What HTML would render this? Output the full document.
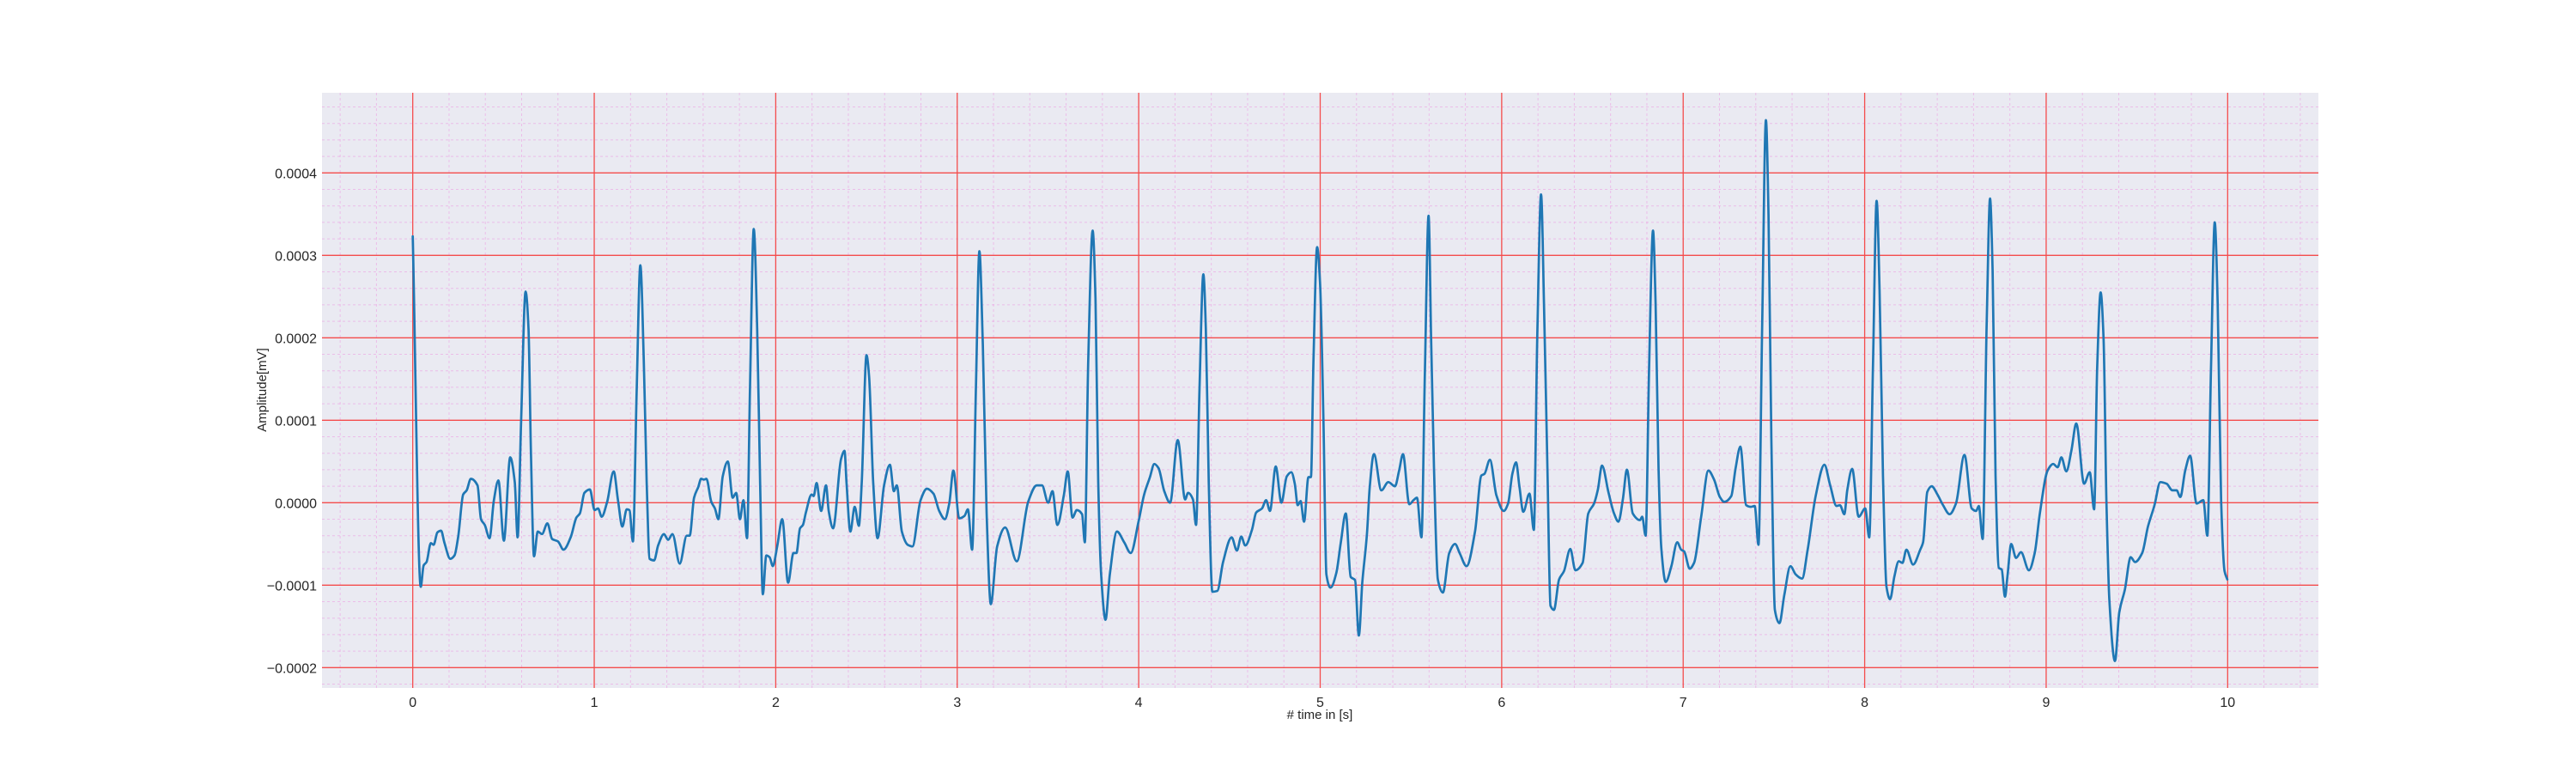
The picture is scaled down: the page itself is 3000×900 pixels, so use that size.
<!DOCTYPE html>
<html><head><meta charset="utf-8"><style>
html,body{margin:0;padding:0;background:#fff;}
svg{display:block;font-family:"Liberation Sans",sans-serif;}
</style></head><body>
<svg id="chart" width="3000" height="900" xmlns="http://www.w3.org/2000/svg">
<rect x="375" y="108" width="2325" height="693" fill="#eaeaf2"/>
<g id="grid"></g>
<g id="series"></g>
<g id="axes"></g>
<text x="1537" y="837" font-size="15" fill="#262626" text-anchor="middle"># time in [s]</text>
<text transform="translate(310,454) rotate(-90)" font-size="15" fill="#262626" text-anchor="middle">Amplitude[mV]</text>
</svg>
<script>
// time (s)
const times = [0,0.044,0.06,0.076,0.1,0.115,0.136,0.156,0.175,0.207,0.23,0.25,0.278,0.297,0.32,0.357,0.376,0.397,0.423,0.447,0.472,0.502,0.537,0.562,0.578,0.597,0.622,0.638,0.651,0.668,0.689,0.712,0.742,0.768,0.8,0.831,0.87,0.902,0.921,0.946,0.976,1.002,1.021,1.041,1.071,1.107,1.131,1.155,1.179,1.194,1.213,1.234,1.254,1.273,1.289,1.305,1.33,1.352,1.384,1.407,1.431,1.471,1.51,1.526,1.55,1.573,1.589,1.605,1.618,1.645,1.665,1.684,1.708,1.736,
1.763,1.782,1.803,1.822,1.842,1.858,1.879,1.898,1.914,1.929,1.948,1.966,1.984,2.008,2.036,2.068,2.098,2.114,2.134,2.15,2.166,2.198,2.209,2.225,2.25,2.277,2.292,2.316,2.36,2.379,2.39,2.411,2.435,2.458,2.474,2.5,2.514,2.537,2.561,2.597,2.629,2.651,2.667,2.695,2.727,2.753,2.798,2.833,2.869,2.901,2.932,2.956,2.979,3.011,3.04,3.059,3.082,3.103,3.122,3.141,3.162,3.185,3.22,3.264,3.328,3.391,3.438,3.467,3.501,
3.525,3.552,3.588,3.609,3.635,3.659,3.688,3.703,3.722,3.746,3.762,3.777,3.793,3.817,3.841,3.88,3.92,3.956,3.999,4.03,4.062,4.086,4.109,4.141,4.173,4.215,4.256,4.272,4.299,4.316,4.335,4.356,4.37,4.386,4.406,4.433,4.465,4.512,4.541,4.565,4.587,4.624,4.647,4.679,4.702,4.723,4.755,4.786,4.816,4.841,4.86,4.876,4.892,4.911,4.935,4.949,4.963,4.983,4.999,5.018,5.034,5.057,5.089,5.113,5.141,5.168,5.192,
5.213,5.232,5.258,5.273,5.296,5.337,5.375,5.412,5.435,5.456,5.491,5.514,5.533,5.558,5.577,5.597,5.611,5.627,5.648,5.676,5.711,5.743,5.77,5.806,5.853,5.888,5.905,5.935,5.971,6.011,6.035,6.059,6.079,6.098,6.119,6.153,6.177,6.196,6.217,6.233,6.252,6.269,6.288,6.316,6.343,6.378,6.406,6.446,6.477,6.509,6.53,6.553,6.588,6.619,6.643,6.667,6.69,6.722,6.762,6.774,6.793,6.812,6.834,6.848,6.864,6.88,6.904,6.935,6.967,
6.989,7.005,7.036,7.06,7.099,7.139,7.17,7.202,7.226,7.265,7.289,7.315,7.347,7.372,7.394,7.415,7.435,7.456,7.47,7.486,7.505,7.53,7.557,7.591,7.62,7.655,7.686,7.73,7.778,7.809,7.845,7.864,7.888,7.904,7.931,7.967,8.003,8.025,8.046,8.066,8.082,8.101,8.12,8.14,8.164,8.188,8.208,8.23,8.267,8.306,8.322,8.345,8.369,8.401,8.432,8.468,8.503,8.55,8.59,8.614,8.629,8.65,8.672,8.691,8.705,8.721,
8.739,8.755,8.773,8.787,8.807,8.834,8.861,8.905,8.937,8.965,9.008,9.039,9.063,9.084,9.111,9.139,9.166,9.209,9.24,9.264,9.281,9.3,9.316,9.332,9.348,9.379,9.403,9.434,9.466,9.49,9.529,9.561,9.597,9.629,9.664,9.695,9.719,9.739,9.766,9.793,9.829,9.866,9.888,9.908,9.929,9.945,9.964,9.983,9.998];
// amplitude in units of 1e-5 mV
const amplitude = [32.3,-10.2,-7.6,-7.2,-4.9,-5.1,-3.6,-3.4,-4.9,-6.8,-6.4,-4.2,1.0,1.5,2.9,2.1,-2.0,-2.7,-4.3,0.3,2.7,-4.6,5.5,2.5,-4.2,9.9,25.6,21.1,6.2,-6.5,-3.5,-3.8,-2.5,-4.4,-4.7,-5.7,-4.2,-1.8,-1.3,1.2,1.6,-0.9,-0.7,-1.7,0.1,3.8,0.3,-2.9,-0.8,-0.9,-4.7,13.7,28.8,17.4,2.5,-6.8,-7.0,-5.2,-3.8,-4.5,-3.8,-7.4,-4.0,-4.0,0.6,1.9,2.9,2.8,2.9,0.1,-0.7,-2.0,3.2,5.0,
0.6,1.2,-2.0,0.3,-4.3,13.7,33.2,21.1,2.5,-11.1,-6.4,-6.6,-7.7,-5.3,-2.0,-9.7,-6.1,-6.1,-3.1,-2.7,-1.2,1.0,0.8,2.4,-1.0,2.1,-1.0,-3.1,5.3,6.3,2.5,-3.5,-0.5,-2.8,2.5,17.9,15.5,2.5,-4.3,2.1,4.6,1.4,2.1,-3.5,-5.1,-5.3,0.3,1.7,1.1,-1.0,-2.0,-0.1,3.9,-1.9,-1.6,-0.8,-5.7,13.7,30.5,19.2,-1.2,-12.3,-5.3,-3.0,-7.1,0.1,2.1,2.1,0,
1.4,-2.7,1.0,3.8,-1.8,-0.9,-1.4,-4.8,17.4,33.0,24.8,2.5,-8.7,-14.2,-8.7,-3.5,-4.8,-6.1,-2.3,1.0,3.1,4.7,4.2,1.4,0,7.6,0.4,1.2,0.4,-2.7,13.7,27.7,21.1,2.5,-10.8,-10.7,-7.2,-4.2,-5.8,-4.1,-5.2,-3.3,-1.2,-0.7,0.3,-1.0,4.4,0,3.2,3.7,2.3,-0.3,0.2,-2.3,3.1,3.1,17.4,31.0,26.7,9.9,-8.7,-10.3,-8.5,-4.9,-1.3,-9.0,-9.4,
-16.1,-9.7,-3.7,1.9,5.9,1.5,2.5,2.0,3.9,5.9,-0.2,0.3,0.6,-4.2,16.2,34.8,20.2,4.3,-9.3,-10.9,-6.1,-5.0,-6.2,-7.7,-3.5,3.3,3.5,5.2,0.9,-1.0,-0.1,3.5,4.9,1.9,-1.1,1.1,-3.3,20.2,37.4,24.2,4.3,-12.5,-13.0,-9.3,-8.3,-5.6,-8.2,-7.3,-1.3,-0.1,1.6,4.5,1.3,-1.3,-2.3,0.3,4.0,-1.3,-2.1,-1.7,-4.0,16.2,33.0,24.2,4.3,-5.7,-9.6,-7.7,-4.8,
-5.7,-5.9,-8.0,-7.3,-1.7,3.9,2.8,0.7,0.1,0.8,4.2,6.8,-0.3,-0.5,-0.4,-5.1,21.4,46.4,34.9,7.8,-13.0,-14.6,-11.2,-7.7,-8.7,-9.2,-5.7,0.8,4.6,2.2,-0.4,-0.3,-1.4,1.5,4.1,-1.7,-0.7,-4.2,16.8,36.6,25.9,3.3,-10.2,-11.7,-8.9,-7.1,-7.3,-5.7,-7.5,-5.7,-4.8,1.3,2.0,1.0,-0.3,-1.4,-0.1,5.8,-0.7,-1.0,-0.4,-4.4,21.4,36.9,28.1,3.3,
-7.9,-8.1,-11.4,-8.9,-5.0,-6.7,-6.0,-8.2,-6.1,-1.3,3.9,4.7,4.3,5.5,3.8,6.3,9.6,2.3,3.7,-0.8,16.2,25.5,20.2,0.3,-11.7,-19.2,-13.3,-10.5,-6.6,-7.2,-6.1,-2.9,-0.3,2.5,2.3,1.5,1.5,0.7,3.9,5.7,-0.1,0.3,-4.0,16.2,34.0,24.2,0.3,-8.3,-9.3];
const xTicks = [0,1,2,3,4,5,6,7,8,9,10];
const yTicks = [-0.0002,-0.0001,0,0.0001,0.0002,0.0003,0.0004];
const yTickLabels = ["\u22120.0002","\u22120.0001","0.0000","0.0001","0.0002","0.0003","0.0004"];

const L=375,R=2700,T=108,B=801;
const xMin=-0.5,xMax=10.5,yMin=-0.0002247,yMax=0.0004972;
const xs=t=>L+(t-xMin)/(xMax-xMin)*(R-L);
const ys=v=>B-(v-yMin)/(yMax-yMin)*(B-T);
const NS="http://www.w3.org/2000/svg";
function mk(tag,attrs,parent){const e=document.createElementNS(NS,tag);for(const k in attrs)e.setAttribute(k,attrs[k]);parent.appendChild(e);return e;}
const grid=document.getElementById('grid'),axes=document.getElementById('axes'),series=document.getElementById('series');
for(let i=-2;i<=52;i++){const t=i*0.2;if(t<xMin||t>xMax)continue;if(Math.abs(t-Math.round(t))<1e-9)continue;
 const l=mk('line',{x1:xs(t),x2:xs(t),y1:T,y2:B,stroke:'#ee88dd','stroke-width':1,'stroke-dasharray':'3,3',opacity:0.45},grid);
 
 }
for(let i=-12;i<=25;i++){const v=i*0.00002;if(v<yMin||v>yMax)continue;if(i%5===0)continue;
 const l=mk('line',{x1:L,x2:R,y1:ys(v),y2:ys(v),stroke:'#ee88dd','stroke-width':1,'stroke-dasharray':'3,3',opacity:0.45},grid);
 
 }
xTicks.forEach(t=>{
 const l=mk('line',{x1:xs(t),x2:xs(t),y1:T,y2:B,stroke:'#f44c4c','stroke-width':1.3},grid);
 
 
 const tx=mk('text',{x:xs(t),y:823,'font-size':16,fill:'#262626','text-anchor':'middle'},axes);
 
 
 tx.textContent=String(t);});
yTicks.forEach((v,i)=>{
 const l=mk('line',{x1:L,x2:R,y1:ys(v),y2:ys(v),stroke:'#f44c4c','stroke-width':1.3},grid);
 
 
 const tx=mk('text',{x:369,y:ys(v)+6,'font-size':16,fill:'#262626','text-anchor':'end'},axes);
 
 
 tx.textContent=yTickLabels[i];});
// series: monotone cubic through points
const px=times.map(xs), py=amplitude.map(a=>ys(a*1e-5));
const n=px.length, dk=[], m=new Array(n);
for(let i=0;i<n-1;i++)dk.push((py[i+1]-py[i])/(px[i+1]-px[i]));
m[0]=dk[0];m[n-1]=dk[n-2];
for(let i=1;i<n-1;i++){if(dk[i-1]*dk[i]<=0)m[i]=0;else{const w1=2*(px[i+1]-px[i])+(px[i]-px[i-1]),w2=(px[i+1]-px[i])+2*(px[i]-px[i-1]);m[i]=(w1+w2)/(w1/dk[i-1]+w2/dk[i]);}}
let d='M'+px[0].toFixed(1)+','+py[0].toFixed(1);
for(let i=0;i<n-1;i++){const h=(px[i+1]-px[i])/3;
 d+='C'+(px[i]+h).toFixed(1)+','+(py[i]+m[i]*h).toFixed(1)+' '+(px[i+1]-h).toFixed(1)+','+(py[i+1]-m[i+1]*h).toFixed(1)+' '+px[i+1].toFixed(1)+','+py[i+1].toFixed(1);}
const p=mk('path',{d:d,fill:'none',stroke:'#1f77b4','stroke-width':2.7,'stroke-linejoin':'round','stroke-linecap':'round'},series);


</script>
</body></html>
